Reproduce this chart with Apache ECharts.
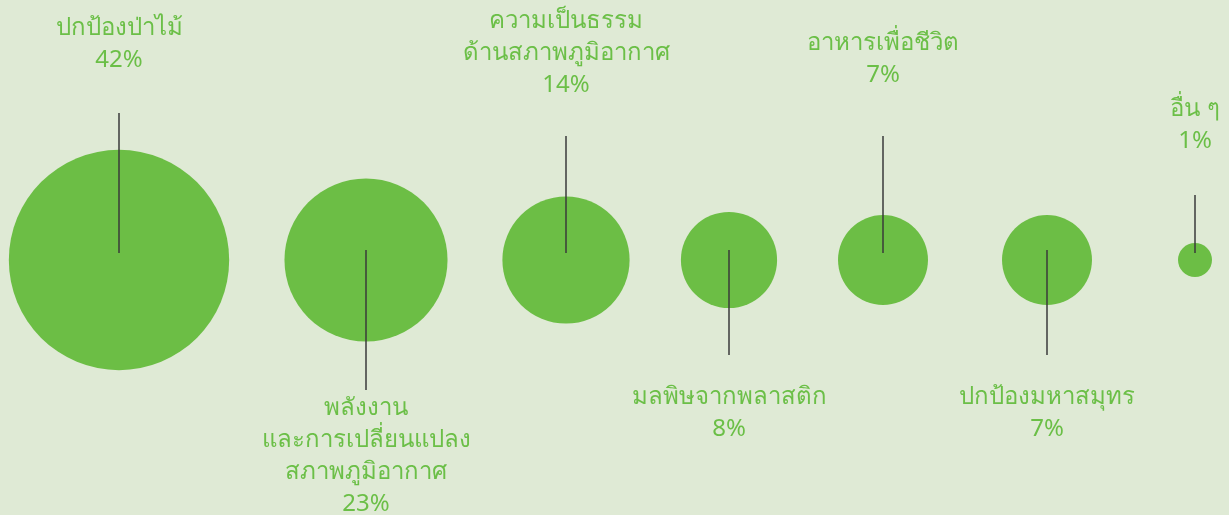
<!DOCTYPE html>
<html>
<head>
<meta charset="utf-8">
<script src="https://cdn.jsdelivr.net/npm/echarts@6/dist/echarts.min.js"></script>
<style>
  html, body { margin: 0; padding: 0; background: #dfead5; }
  #chart { width: 1229px; height: 515px; }
</style>
</head>
<body>
<div id="chart"></div>
<script>
// data
const categories = [
  'ปกป้องป่าไม้',
  'พลังงาน\nและการเปลี่ยนแปลง\nสภาพภูมิอากาศ',
  'ความเป็นธรรม\nด้านสภาพภูมิอากาศ',
  'มลพิษจากพลาสติก',
  'อาหารเพื่อชีวิต',
  'ปกป้องมหาสมุทร',
  'อื่น ๆ'
]
const shares = [42, 23, 14, 8, 7, 7, 1]

// layout (x position on a 0..1229 axis, leader line end and label anchor, px from centre)
const slotX = [119, 366, 566, 729, 883, 1047, 1195]
const side = ['up', 'down', 'up', 'down', 'up', 'down', 'up']
const lineEnd = [-147, 130, -124, 95, -124, 95, -65]
const labelAt = [-200, 148, -175, 137, -185, 137, -119]

const GREEN = '#6cbe45'
const TEXT_GREEN = '#6bbf47'
const RADIUS_K = 17

const chart = echarts.init(document.getElementById('chart'))

chart.setOption({
  backgroundColor: '#dfead5',
  animation: false,
  grid: { left: 0, right: 0, top: 5, bottom: 0 },
  xAxis: { type: 'value', min: 0, max: 1229, show: false },
  yAxis: { type: 'value', min: -1, max: 1, show: false },
  series: [{
    type: 'custom',
    data: shares.map((v, i) => [slotX[i], 0, v]),
    renderItem: (params, api) => {
      const i = params.dataIndex
      const c = api.coord([api.value(0), api.value(1)])
      const r = RADIUS_K * Math.sqrt(api.value(2))
      const up = side[i] === 'up'
      // leader starts just off the centre like the original
      const y0 = c[1] + (up ? -7 : -10)
      return {
        type: 'group',
        children: [
          {
            type: 'circle',
            shape: { cx: c[0], cy: c[1], r },
            style: { fill: GREEN }
          },
          {
            type: 'line',
            shape: { x1: c[0], y1: y0, x2: c[0], y2: c[1] + lineEnd[i] },
            style: { stroke: '#3a3a3a', lineWidth: 1.5 }
          },
          {
            type: 'text',
            x: c[0],
            y: c[1] + labelAt[i] + (up ? 16 : -16),
            style: {
              text: categories[i] + '\n' + shares[i] + '%',
              fill: TEXT_GREEN,
              font: '24px "Noto Sans", sans-serif',
              lineHeight: 32,
              align: 'center',
              verticalAlign: up ? 'bottom' : 'top'
            }
          }
        ]
      }
    }
  }]
})
</script>
</body>
</html>
